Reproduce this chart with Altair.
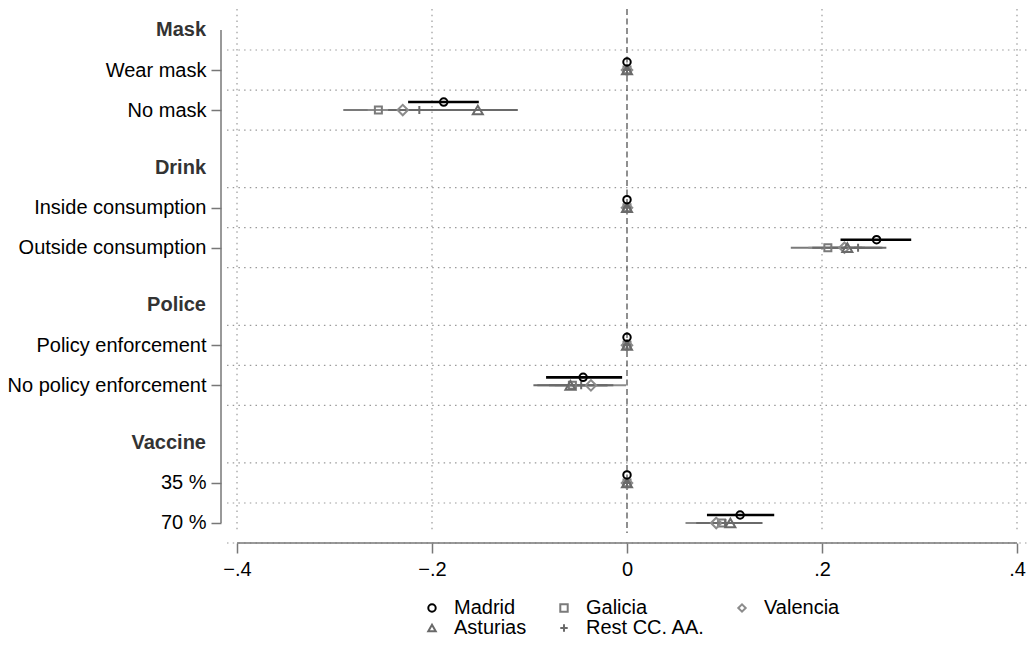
import altair as alt
import pandas as pd

# ---------------- data ----------------
rows = ["Mask", "Wear mask", "No mask",
        "Drink", "Inside consumption", "Outside consumption",
        "Police", "Policy enforcement", "No policy enforcement",
        "Vaccine", "35 %", "70 %"]
is_heading = [True, False, False, True, False, False,
              True, False, False, True, False, False]
reference_rows = ["Wear mask", "Inside consumption", "Policy enforcement", "35 %"]
estimated_rows = ["No mask", "Outside consumption", "No policy enforcement", "70 %"]

series = ["Madrid", "Galicia", "Valencia", "Asturias", "Rest CC. AA."]

madrid_est = [-0.188, 0.256, -0.045, 0.116]
madrid_lo = [-0.2245, 0.219, -0.083, 0.082]
madrid_hi = [-0.152, 0.2915, -0.005, 0.151]

galicia_est = [-0.255, 0.206, -0.056, 0.097]
galicia_lo = [-0.291, 0.168, -0.092, 0.064]
galicia_hi = [-0.219, 0.244, -0.020, 0.130]

valencia_est = [-0.230, 0.223, -0.037, 0.0915]
valencia_lo = [-0.266, 0.186, -0.074, 0.060]
valencia_hi = [-0.194, 0.260, -0.001, 0.123]

asturias_est = [-0.153, 0.226, -0.058, 0.106]
asturias_lo = [-0.194, 0.190, -0.096, 0.073]
asturias_hi = [-0.112, 0.262, -0.020, 0.139]

rest_est = [-0.213, 0.237, -0.047, 0.101]
rest_lo = [-0.245, 0.208, -0.080, 0.071]
rest_hi = [-0.181, 0.266, -0.014, 0.131]

x_ticks = [-0.4, -0.2, 0.0, 0.2, 0.4]
x_grid = [-0.4, -0.2, 0.2, 0.4]

# ---------------- layout helpers ----------------
HEAD_GAP = 0.44
pos_of = {}
p = 0.0
for i, r in enumerate(rows):
    if is_heading[i] and i > 0:
        p += HEAD_GAP
    pos_of[r] = round(p, 3)
    p += 1.0

offset = {"Madrid": -0.2, "Galicia": 0.0, "Valencia": 0.0, "Asturias": 0.0, "Rest CC. AA.": 0.0}

est_table = {
    "Madrid": (madrid_est, madrid_lo, madrid_hi),
    "Galicia": (galicia_est, galicia_lo, galicia_hi),
    "Valencia": (valencia_est, valencia_lo, valencia_hi),
    "Asturias": (asturias_est, asturias_lo, asturias_hi),
    "Rest CC. AA.": (rest_est, rest_lo, rest_hi),
}

draw_order = ["Galicia", "Valencia", "Asturias", "Rest CC. AA.", "Madrid"]
pt_recs, ci_recs = [], []
for s in draw_order:
    e, lo, hi = est_table[s]
    for r in reference_rows:
        pt_recs.append({"series": s, "x": 0.0, "pos": pos_of[r] + offset[s]})
    for j, r in enumerate(estimated_rows):
        pt_recs.append({"series": s, "x": e[j], "pos": pos_of[r] + offset[s]})
        ci_recs.append({"series": s, "x": lo[j], "x2": hi[j], "pos": pos_of[r] + offset[s]})
pts = pd.DataFrame(pt_recs)
cis = pd.DataFrame(ci_recs)

items = [r for r, h in zip(rows, is_heading) if not h]
heads = pd.DataFrame({"label": [r for r, h in zip(rows, is_heading) if h],
                      "pos": [pos_of[r] for r, h in zip(rows, is_heading) if h]})
grid_pos = sorted({round(pos_of[r] + d, 3) for r in items for d in (-0.5, 0.5)})
hgrid = pd.DataFrame({"pos": grid_pos})
vgrid = pd.DataFrame({"x": x_grid})
zero = pd.DataFrame({"x": [0.0]})
yline = pd.DataFrame({"pos": [pos_of[rows[0]]], "pos2": [pos_of[rows[-1]]]})
xline = pd.DataFrame({"x": [x_ticks[0]], "x2": [x_ticks[-1]]})

# ---------------- scales / axes ----------------
W, H = 800, 524
FONT = "Liberation Sans"
FS = 20
AX = "#777777"

label_expr = "".join(
    f"abs(datum.value - {pos_of[r]}) < 0.01 ? '{r}' : " for r in items) + "''"

x_scale = alt.Scale(domain=[-0.41026, 0.41026], nice=False, zero=False)
y_scale = alt.Scale(domain=[-0.525, 12.57], nice=False, zero=False, reverse=True)

x_axis = alt.Axis(values=x_ticks, title=None, grid=False, domain=False, offset=10,
                  tickSize=10, tickColor=AX, tickWidth=1.5, labelFontSize=FS,
                  labelColor="#000", labelPadding=6, labelFont=FONT,
                  labelExpr="datum.value == 0 ? '0' : replace(format(datum.value, '.1f'), '0.', '.')")
y_axis = alt.Axis(values=[pos_of[r] for r in items], title=None, grid=False, domain=False,
                  offset=6, tickSize=10, tickColor=AX, tickWidth=1.5, labelFontSize=FS,
                  labelColor="#000", labelPadding=5, labelFont=FONT, labelLimit=0,
                  labelExpr=label_expr)

X = alt.X("x:Q", scale=x_scale, axis=x_axis)
Y = alt.Y("pos:Q", scale=y_scale, axis=y_axis)

colors = ["#000000", "#7a7a7a", "#8c8c8c", "#6a6a6a", "#6a6a6a"]
shapes = ["circle", "square", "diamond", "triangle-up", "M-1,0H1M0,-1V1"]
sizes = [56, 49, 110, 100, 64]
ci_widths = [2.6, 2, 2, 2, 2]

# scales without a legend get the domain in another order so that their
# (disabled) legends are not merged with the colour/shape legend
rev = list(reversed(series))
rev_colors = list(reversed(colors))
rev_sizes = list(reversed(sizes))
rev_widths = list(reversed(ci_widths))

legend = alt.Legend(orient="none", legendX=195, legendY=589, direction="horizontal",
                    columns=3, columnPadding=27, rowPadding=0, symbolStrokeWidth=2,
                    symbolSize=55, labelFontSize=FS, labelFont=FONT, labelOffset=12,
                    title=None, padding=0, labelColor="#000")

color_enc = alt.Color("series:N", scale=alt.Scale(domain=series, range=colors), legend=legend)
shape_enc = alt.Shape("series:N", scale=alt.Scale(domain=series, range=shapes), legend=legend)

# ---------------- layers ----------------
hgrid_l = alt.Chart(hgrid).mark_rule(color="#9a9a9a", strokeWidth=1.2, strokeDash=[1.5, 4.2]).encode(
    y=Y, x=alt.value(0), x2=alt.value(W))
vgrid_l = alt.Chart(vgrid).mark_rule(color="#9a9a9a", strokeWidth=1.2, strokeDash=[1.5, 4.2]).encode(
    x=X, y=alt.value(0), y2=alt.value(H))
zero_l = alt.Chart(zero).mark_rule(color="#555555", strokeWidth=1.3, strokeDash=[6, 3.5]).encode(
    x=X, y=alt.value(0), y2=alt.value(H))
xline_l = alt.Chart(xline).mark_rule(color=AX, strokeWidth=1.5).encode(
    x=X, x2="x2:Q", y=alt.value(H + 10))
yline_l = alt.Chart(yline).mark_rule(color=AX, strokeWidth=1.5).encode(
    y=Y, y2="pos2:Q", x=alt.value(-6))
heads_l = alt.Chart(heads).mark_text(align="right", baseline="middle", font=FONT, fontSize=FS,
                                     fontWeight="bold", color="#333333").encode(
    y=Y, x=alt.value(-21), text="label:N")
ci_l = alt.Chart(cis).mark_rule().encode(
    x=X, x2="x2:Q", y=Y,
    stroke=alt.Stroke("series:N", scale=alt.Scale(type="ordinal", domain=rev, range=rev_colors),
                      legend=None),
    strokeWidth=alt.StrokeWidth("series:N", scale=alt.Scale(type="ordinal", domain=rev, range=rev_widths),
                                legend=None))
pt_l = alt.Chart(pts).mark_point(filled=False, strokeWidth=2, opacity=1).encode(
    x=X, y=Y, color=color_enc, shape=shape_enc,
    size=alt.Size("series:N", scale=alt.Scale(type="ordinal", domain=rev, range=rev_sizes),
                  legend=None))

chart = alt.layer(hgrid_l, vgrid_l, zero_l, xline_l, yline_l, heads_l, ci_l, pt_l).properties(
    width=W, height=H, autosize=alt.AutoSizeParams(type="none"),
    padding={"left": 219, "top": 1, "right": 0, "bottom": 105}
).configure(font=FONT).configure_view(stroke=None)

chart.save("out.html", embed_options={"renderer": "svg", "actions": False})
